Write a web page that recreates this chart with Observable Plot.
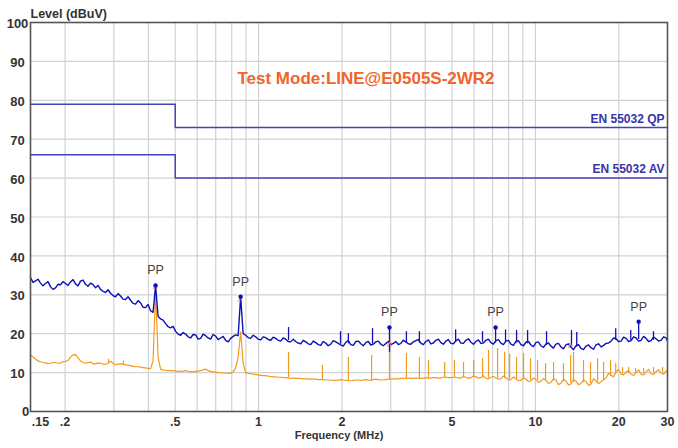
<!DOCTYPE html>
<html><head><meta charset="utf-8">
<script src="https://cdn.jsdelivr.net/npm/d3@7"></script>
<script src="https://cdn.jsdelivr.net/npm/@observablehq/plot@0.6"></script>
<style>body{margin:0;background:#fff} #chart{width:678px;height:448px}</style>
</head><body><div id="chart"></div>
<script>
// Sweep frequencies (MHz)
const sweepFreq = [0.150,0.1564,0.1630,0.1699,0.1771,0.1847,0.1925,0.2007,0.2092,0.2181,0.2274,0.2370,0.2471,0.2576,0.2686,0.2800,0.2919,0.3043,0.3172,0.3307,0.3448,0.3594,0.3747,0.3906,0.4072,0.4245,0.4426,0.4614,0.4810,0.5014,0.5227,0.5450,0.5681,0.5923,0.6175,0.6437,0.6711,0.6996,0.7293,0.7603,0.7927,0.8264,0.8615,0.8981,0.9363,0.9761,1.018,1.061,1.106,1.153,1.202,1.253,1.306,1.362,1.420,1.480,1.543,1.609,1.677,1.748,1.823,1.900,1.981,2.065,2.153,2.245,2.340,2.440,2.543,2.651,2.764,2.882,3.004,3.132,3.265,3.404,3.548,3.699,3.856,4.020,4.191,4.369,4.555,4.749,4.950,5.161,5.380,5.609,5.847,6.096,6.355,6.625,6.906,7.200,7.506,7.825,8.157,8.504,8.866,9.242,9.635,10.04,10.47,10.92,11.38,11.86,12.37,12.89,13.44,14.01,14.61,15.23,15.88,16.55,17.26,17.99,18.76,19.55,20.39,21.25,22.16,23.10,24.08,25.10,26.17,27.28,28.44,29.65,30.0];
// Peak detector trace (dBuV) at the sweep frequencies
const peakLevel = [34.4,33.6,33.0,32.9,32.1,31.8,32.6,32.9,33.3,32.8,33.5,32.7,33.0,31.8,31.4,30.6,30.4,29.5,29.7,28.8,28.6,27.6,27.9,26.7,25.9,32.4,23.8,22.6,21.5,20.6,19.6,19.9,18.9,19.7,18.8,19.5,18.6,19.4,18.9,18.3,18.8,19.7,29.5,19.6,18.8,19.2,18.4,19.0,18.3,18.8,18.1,18.6,17.9,18.0,17.4,17.9,17.2,17.7,17.0,17.6,17.3,17.9,17.1,17.8,17.2,18.0,17.4,17.7,17.1,17.9,17.3,17.5,17.2,18.0,17.5,17.9,17.3,18.2,17.6,18.0,17.4,18.3,17.7,18.1,17.5,18.2,17.6,18.3,17.8,18.0,17.5,18.3,17.7,18.2,17.6,18.1,17.3,18.0,17.2,17.8,17.1,17.7,16.9,17.4,16.8,17.3,16.6,17.1,16.5,16.9,16.2,16.8,16.4,17.1,16.6,17.5,18.1,18.7,18.1,18.8,18.2,18.9,18.3,18.8,18.2,18.7,18.3,18.9,18.6];
// Peak detector readings between consecutive sweep frequencies
const peakMidLevel = [33.2,34.0,32.3,33.4,31.4,32.7,33.4,32.4,33.9,32.3,33.8,32.2,32.6,32.4,30.9,31.3,29.8,30.3,28.9,29.5,27.8,28.5,26.8,27.5,25.5,24.5,23.5,21.8,21.9,19.9,20.3,19.2,19.8,18.6,19.9,18.9,19.8,18.5,19.3,17.9,19.3,19.5,20.0,19.0,19.6,18.6,19.2,18.5,19.1,18.3,18.9,18.0,18.6,17.6,18.3,17.4,18.1,17.2,18.0,16.9,18.2,17.5,16.8,18.2,17.0,18.1,16.9,18.0,17.3,18.1,16.9,18.0,17.5,17.2,18.3,17.4,17.9,18.5,17.2,18.4,17.6,18.6,17.3,18.5,17.4,18.6,17.5,18.7,17.3,18.4,17.6,18.6,17.3,18.5,17.2,18.3,17.0,18.2,16.9,18.0,16.7,17.9,16.5,17.6,16.3,17.5,16.1,17.4,15.9,17.2,15.9,17.1,16.0,17.4,17.0,17.6,18.9,18.0,19.1,18.0,19.2,18.1,19.3,18.0,19.1,18.1,19.2,18.4];
// Average detector trace (dBuV) at the sweep frequencies
const avgLevel = [14.6,13.5,12.8,12.5,12.4,12.6,12.5,12.9,14.0,14.7,13.0,12.4,12.7,12.2,12.4,12.1,12.9,12.0,12.3,12.0,11.8,11.5,11.4,11.2,11.0,31.0,10.9,10.6,10.5,10.4,10.3,10.5,10.2,10.3,10.5,10.9,10.3,10.1,10.0,9.9,9.8,11.2,20.5,10.0,9.7,9.5,9.3,9.2,9.0,8.9,8.8,8.7,8.6,8.5,8.5,8.4,8.3,8.3,8.2,8.1,8.1,8.0,8.2,8.0,7.9,8.1,8.0,8.2,8.0,8.3,8.1,8.2,8.3,8.4,8.5,8.6,8.5,8.6,8.5,8.7,8.6,8.7,8.6,8.8,8.7,8.8,8.6,8.8,8.7,8.9,8.7,8.5,8.8,8.6,8.4,8.7,8.2,8.4,8.0,8.3,7.9,8.2,7.8,8.0,7.5,8.1,7.3,7.9,7.1,7.8,7.2,7.7,7.0,7.9,7.6,8.6,9.3,10.2,9.6,10.1,9.5,10.0,9.6,10.2,9.7,10.3,9.9,10.4,10.2];
// Average detector readings between consecutive sweep frequencies
const avgMidLevel = [14.0,13.0,12.6,12.3,12.6,12.4,12.8,13.1,14.5,13.8,12.6,12.6,12.3,12.5,12.2,12.4,12.4,12.2,12.1,11.9,11.6,11.5,11.3,11.1,13.0,14.0,10.7,10.5,10.5,10.3,10.4,10.3,10.2,10.4,10.7,10.5,10.2,10.0,9.9,9.8,10.2,14.0,12.5,9.8,9.6,9.4,9.2,9.1,8.9,8.8,8.7,8.6,8.6,8.5,8.4,8.4,8.3,8.2,8.2,8.1,8.0,8.1,8.1,7.9,8.0,8.1,8.1,8.1,8.2,8.2,8.1,8.3,8.4,8.4,8.5,8.6,8.5,8.6,8.6,8.6,8.7,8.6,8.8,8.7,8.8,8.6,9.0,8.5,9.1,8.6,9.2,8.4,9.0,8.3,9.1,8.1,8.9,7.9,8.7,7.7,8.6,7.5,8.5,7.2,8.4,6.9,8.3,6.8,8.2,6.9,8.1,6.7,8.4,7.2,8.2,9.8,8.9,10.8,9.4,10.6,9.3,10.7,9.4,10.8,9.5,10.7,9.6,10.5];
// Narrow spikes of the average trace
const avgSpikeFreq = [0.287,0.325,1.283,1.70,2.11,2.56,2.97,3.42,3.81,4.11,4.70,5.10,5.50,5.98,6.44,6.77,7.30,7.74,8.07,8.55,9.06,9.60,10.18,10.88,11.63,12.63,13.40,13.73,14.92,15.82,16.77,17.63,18.69,19.5,20.64,21.7,23.0,24.6,26.7,28.8];
const avgSpikeBase = [12.3,12.0,8.7,8.2,8.0,8.0,8.3,8.5,8.5,8.6,8.7,8.7,8.7,8.8,8.7,8.6,8.5,8.5,8.3,8.3,8.2,8.0,8.0,7.9,7.8,7.6,7.4,7.5,7.4,7.2,7.6,8.0,9.0,9.8,9.7,9.8,9.8,9.8,9.9,10.0];
const avgSpikeTop = [13.4,12.9,15.2,11.8,13.9,14.4,15.2,14.9,13.9,13.1,12.6,13.1,12.6,13.1,13.6,15.7,16.2,15.2,14.7,13.9,14.9,13.6,13.1,12.3,12.6,12.3,14.4,15.2,13.1,12.6,13.6,12.6,13.1,12.3,11.3,11.3,11.1,11.1,11.3,11.3];
// Narrow spikes of the peak trace
const peakSpikeFreq = [1.283,1.977,2.11,2.58,2.97,3.42,3.81,5.15,6.44,7.18,7.80,8.55,9.37,10.97,13.5,14.1,19.5,22.1,23.6,26.7];
const peakSpikeLow = [18.2,17.3,17.4,17.3,15.2,17.5,17.6,17.8,17.8,17.6,17.8,17.6,17.4,17.0,16.2,16.6,18.3,18.3,18.5,18.3];
const peakSpikeHigh = [21.6,20.5,20.0,21.3,21.6,20.5,20.5,21.0,20.5,21.6,21.0,20.8,20.8,20.5,20.8,20.3,21.3,20.8,23.1,20.5];
// PP markers
const ppFreq = [0.4245,0.8615,2.97,7.18,23.6];
const ppLevel = [32.4,29.5,21.6,21.6,23.1];
// Average markers
const avMarkFreq = [0.4245,0.8615,2.97,13.4];
const avMarkLevel = [32.2,29.0,17.4,17.0];
// Limits
const limitFreq = [0.15,0.5,0.5,30];
const qpLimit = [79,79,73,73];
const avLimit = [66,66,60,60];
const limitNames = ["EN 55032 QP","EN 55032 AV"];
const limitLabelLevel = [73,60];
// Axes
const yTicks = [0,10,20,30,40,50,60,70,80,90,100];
const xTickValues = [0.15,0.2,0.5,1,2,5,10,20,30];
const xTickLabels = [".15",".2",".5","1","2","5","10","20","30"];
const gridFreq = [0.2,0.3,0.4,0.5,0.6,0.7,0.8,0.9,1,2,3,4,5,6,7,8,9,10,20];
const titleText = "Test Mode:LINE@E0505S-2WR2";
const yLabel = "Level (dBuV)";
const xLabel = "Frequency (MHz)";

function trace(levels, mids) {
  const pts = sweepFreq.map((f, i) => ({f, v: levels[i]}));
  mids.forEach((v, i) => pts.push({f: Math.sqrt(sweepFreq[i] * sweepFreq[i + 1]), v}));
  return pts.sort((a, b) => a.f - b.f);
}
const peak = trace(peakLevel, peakMidLevel);
const avg = trace(avgLevel, avgMidLevel);
const avgSpikes = avgSpikeFreq.map((f,i)=>({f, lo: avgSpikeBase[i], hi: avgSpikeTop[i]}));
const peakSpikes = peakSpikeFreq.map((f,i)=>({f, lo: peakSpikeLow[i], hi: peakSpikeHigh[i]}));
const pp = ppFreq.map((f,i)=>({f, v: ppLevel[i]}));
const avm = avMarkFreq.map((f,i)=>({f, v: avMarkLevel[i]}));
const qp = limitFreq.map((f,i)=>({f, v: qpLimit[i]}));
const av = limitFreq.map((f,i)=>({f, v: avLimit[i]}));
const limLabels = limitNames.map((t,i)=>({t, v: limitLabelLevel[i]}));
const xt = xTickValues.map((f,i)=>({f, t: xTickLabels[i]}));

const BLUE = "#1010b4", ORANGE = "#f39a1e", LIM = "#4444b4", TXT = "#333";
const font = "'Liberation Sans', Arial, sans-serif";

const chart = Plot.plot({
  width: 678, height: 448,
  marginLeft: 30, marginRight: 11, marginTop: 22, marginBottom: 37,
  x: {type: "log", domain: [0.15, 30], axis: null},
  y: {domain: [0, 100], axis: null},
  style: {fontFamily: font, background: "#fff"},
  marks: [
    Plot.ruleY(yTicks.filter(d => d > 0 && d < 100), {y: d => d, stroke: "#d2d2d2", strokeWidth: 1.2}),
    Plot.ruleX(gridFreq, {x: d => d, stroke: "#d2d2d2", strokeWidth: 1.2}),
    Plot.line(qp, {x: "f", y: "v", stroke: LIM, strokeWidth: 1.5}),
    Plot.line(av, {x: "f", y: "v", stroke: LIM, strokeWidth: 1.5}),
    Plot.text(limLabels, {x: 30, y: "v", text: "t", textAnchor: "end", dx: -3, dy: -8.5, fill: "#3535a5", fontWeight: "bold", fontSize: 12}),
    Plot.line(avg, {x: "f", y: "v", stroke: ORANGE, strokeWidth: 1.2}),
    Plot.ruleX(avgSpikes, {x: "f", y1: "lo", y2: "hi", stroke: ORANGE, strokeWidth: 1.2}),
    Plot.line(peak, {x: "f", y: "v", stroke: BLUE, strokeWidth: 1.4}),
    Plot.ruleX(peakSpikes, {x: "f", y1: "lo", y2: "hi", stroke: BLUE, strokeWidth: 1.3}),
    Plot.text(avm, {x: "f", y: "v", text: () => "∧", fill: "#f07a60", fontSize: 9}),
    Plot.dot(pp, {x: "f", y: "v", r: 2.2, fill: BLUE}),
    Plot.text(pp, {x: "f", y: "v", text: () => "PP", dy: -15, fill: "#444", fontSize: 12.5}),
    Plot.text([titleText], {frameAnchor: "top", dx: 17, dy: 49, fill: "#f0652a", fontWeight: "bold", fontSize: 17}),
    Plot.text(yTicks.filter(d => d > 0), {x: 0.15, y: d => d, text: d => String(d), textAnchor: "middle", dx: -13, dy: 1.5, fill: TXT, fontWeight: "bold", fontSize: 13}),
    Plot.text([0], {x: 0.15, y: d => d, text: d => String(d), textAnchor: "middle", dx: -5, dy: 0, fill: TXT, fontWeight: "bold", fontSize: 13}),
    Plot.text(xt.slice(0,1), {x: "f", y: 0, text: "t", textAnchor: "middle", dx: 10, dy: 10, fill: TXT, fontWeight: "bold", fontSize: 12.5}),
    Plot.text(xt.slice(1), {x: "f", y: 0, text: "t", textAnchor: "middle", dy: 10, fill: TXT, fontWeight: "bold", fontSize: 12.5}),
    Plot.text([yLabel], {x: 0.15, y: 100, textAnchor: "start", dy: -9, fill: TXT, fontWeight: "bold", fontSize: 12.5}),
    Plot.text([xLabel], {frameAnchor: "bottom", dx: -10, dy: 27, fill: TXT, fontWeight: "bold", fontSize: 11}),
    Plot.frame({stroke: "#555", strokeWidth: 1.6})
  ]
});
document.getElementById("chart").appendChild(chart);
</script>
</body></html>
